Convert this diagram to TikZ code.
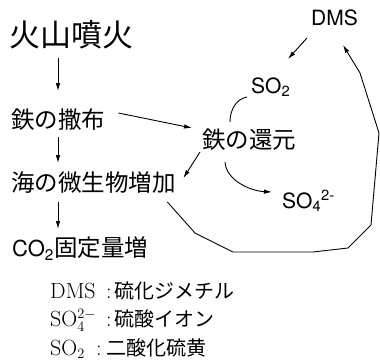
\documentclass[tikz,border=0pt]{standalone}
\usepackage{fontspec}
\newfontfamily\jp{Noto Sans CJK JP}
\newfontfamily\hv{TeX Gyre Heros}
\usetikzlibrary{arrows.meta,calc}
\tikzset{
  arr/.style={-{Latex[length=8pt,width=4.5pt]}, line width=0.9pt},
  ln/.style={line width=0.9pt},
  jbig/.style={font=\jp\fontsize{31}{37}\selectfont, inner sep=0pt, text height=27pt, text depth=4pt},
  jmid/.style={font=\jp\fontsize{23.5}{28}\selectfont, inner sep=0pt, text height=20.5pt, text depth=3pt},
  chem/.style={font=\hv\fontsize{21}{25}\selectfont, inner sep=0pt},
  legend/.style={font=\fontsize{22}{26}\selectfont, inner sep=0pt, anchor=base west}
}
\begin{document}
\begin{tikzpicture}[x=1pt,y=-1pt]
\useasboundingbox (0,0) rectangle (380,362);
\coordinate (colx) at (58,0);
% left column
\node[jbig, anchor=west] (kazan) at (9,35) {火山噴火};
\node[jmid, anchor=west] (sanpu) at (11,120) {鉄の撒布};
\node[jmid, anchor=west] (umi) at (11,183) {海の微生物増加};
\node[jmid, anchor=west] (co2) at (12,248) {{\hv\fontsize{22}{26}\selectfont CO\textsubscript{2}}固定量増};
% right part
\node[jmid, anchor=west] (kangen) at (202,140) {鉄の還元};
\node[chem, anchor=base west] (dms) at (311,25) {DMS};
\node[chem, anchor=base west] (so2) at (251,93) {SO\textsubscript{2}};
\node[chem, anchor=base west] (so4) at (282,208) {SO\textsubscript{4}\textsuperscript{2-}};
% legend
\node[legend] (l1) at (50,298) {\makebox[56pt][l]{DMS}:\hspace{3pt}{\jp\fontsize{20}{24}\selectfont 硫化ジメチル}};
\node[legend] (l2) at (50,326) {\makebox[56pt][l]{SO$_4^{2-}$}:\hspace{3pt}{\jp\fontsize{20}{24}\selectfont 硫酸イオン}};
\node[legend] (l3) at (50,355) {\makebox[46pt][l]{SO$_2$}:\hspace{5pt}{\jp\fontsize{20}{24}\selectfont 二酸化硫黄}};
% vertical arrows
\draw[arr, shorten <=7pt, shorten >=17pt] (kazan.south -| colx) -- (sanpu.north -| colx);
\draw[arr, shorten <=5pt, shorten >=8pt] (sanpu.south -| colx) -- (umi.north -| colx);
\draw[arr, shorten <=7pt, shorten >=7pt] (umi.south -| colx) -- (co2.north -| colx);
% other arrows
\draw[arr] ([shift={(13,-7)}]sanpu.east) -- ([shift={(-10,-12)}]kangen.west);
\draw[arr] ([shift={(-2,12)}]kangen.west) -- ([shift={(7.5,-5)}]umi.east);
\draw[arr] ([shift={(-4,13)}]dms.base west) -- ([shift={(37,-34)}]so2.base west);
\draw[ln] ([shift={(-4,4)}]so2.base west) .. controls ([shift={(-15,6)}]so2.base west) and ([shift={(-21,17)}]so2.base west) .. ([shift={(28,-18)}]kangen.west);
\draw[arr] ([shift={(23,22)}]kangen.west) .. controls ([shift={(24,40)}]kangen.west) and ([shift={(48,51)}]kangen.west) .. ([shift={(-10,-16)}]so4.base west);
\draw[arr] ([shift={(-8.5,19)}]umi.east) -- (195,233) -- (233,252) -- (313,252) -- (348,248) -- (371,225) -- (379,133) -- (360,73) -- ([shift={(32,20)}]dms.base west);
\end{tikzpicture}
\end{document}
